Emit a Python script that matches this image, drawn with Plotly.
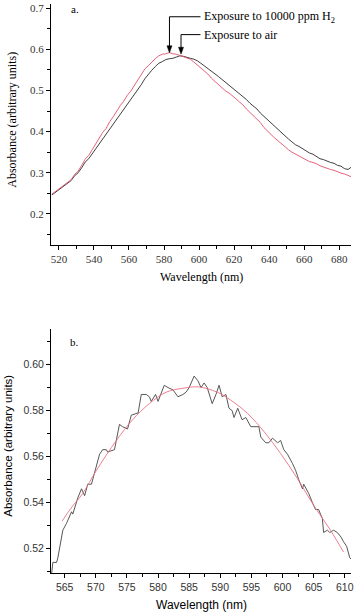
import plotly.graph_objects as go

# ---------- Panel a: absorbance spectra ----------
wl_a = [516, 519, 522, 525, 527, 529, 531, 533, 535, 537, 539, 541, 543, 545, 547, 549,
        551, 553, 555, 557, 559, 561, 563, 565, 567, 569, 571, 573, 575, 577, 579, 581,
        583, 585, 587, 589, 591, 593, 595, 597, 599, 601, 603, 605, 607, 609, 611, 613,
        615, 617, 619, 621, 623, 625, 627, 629, 631, 633, 635, 637, 639, 641, 643, 645,
        647, 649, 651, 653, 655, 657, 659, 661, 663, 665, 667, 669, 671, 673, 675, 677,
        679, 681, 683, 685, 687]

h2_a = [0.248, 0.258, 0.268, 0.277, 0.283, 0.296, 0.304, 0.318, 0.333, 0.342, 0.356, 0.370,
        0.382, 0.398, 0.408, 0.424, 0.436, 0.450, 0.463, 0.474, 0.488, 0.498, 0.512, 0.525,
        0.538, 0.552, 0.560, 0.569, 0.577, 0.584, 0.588, 0.589, 0.592, 0.589, 0.588, 0.585,
        0.582, 0.579, 0.576, 0.569, 0.562, 0.556, 0.547, 0.540, 0.530, 0.522, 0.513, 0.505,
        0.499, 0.494, 0.488, 0.480, 0.472, 0.465, 0.455, 0.447, 0.440, 0.430, 0.422, 0.410,
        0.401, 0.394, 0.385, 0.378, 0.370, 0.364, 0.356, 0.350, 0.345, 0.340, 0.336, 0.331,
        0.327, 0.325, 0.322, 0.317, 0.314, 0.310, 0.308, 0.306, 0.302, 0.299, 0.297, 0.293,
        0.290]

air_a = [0.246, 0.255, 0.266, 0.275, 0.281, 0.293, 0.300, 0.312, 0.326, 0.334, 0.346, 0.358,
         0.368, 0.381, 0.392, 0.404, 0.416, 0.428, 0.442, 0.454, 0.466, 0.478, 0.490, 0.502,
         0.514, 0.528, 0.539, 0.549, 0.558, 0.566, 0.570, 0.575, 0.577, 0.578, 0.581, 0.584,
         0.583, 0.580, 0.578, 0.576, 0.572, 0.566, 0.560, 0.554, 0.547, 0.540, 0.534, 0.527,
         0.520, 0.514, 0.507, 0.500, 0.492, 0.487, 0.478, 0.469, 0.462, 0.455, 0.445, 0.437,
         0.430, 0.420, 0.413, 0.404, 0.397, 0.390, 0.382, 0.375, 0.368, 0.364, 0.358, 0.352,
         0.348, 0.345, 0.340, 0.334, 0.332, 0.328, 0.325, 0.323, 0.318, 0.316, 0.310, 0.308,
         0.314]

# ---------- Panel b: measured spectrum and fit ----------
wl_b = [562.9, 563.1, 563.7, 563.9, 564.7, 565.3, 566.1, 566.3, 567.1, 567.7, 568.2, 568.7,
        569.3, 569.8, 570.6, 571.1, 571.7, 571.9, 573.0, 573.8, 574.3, 575.1, 575.7, 576.8,
        577.3, 578.1, 578.6, 578.9, 579.6, 580.0, 581.0, 581.6, 582.4, 583.2, 584.0, 584.5,
        585.0, 585.8, 586.4, 586.9, 587.4, 587.9, 588.7, 589.3, 589.8, 590.3, 590.9, 591.4,
        591.9, 592.2, 592.8, 593.5, 594.1, 594.9, 595.7, 596.2, 596.5, 597.3, 597.8, 598.4,
        599.2, 599.7, 600.2, 600.8, 601.6, 602.1, 602.6, 603.2, 603.4, 604.2, 604.8, 605.3,
        605.8, 606.4, 606.6, 607.2, 607.6, 608.2, 608.8, 609.4, 609.8, 610.3, 610.8, 611.2]

abs_b = [0.509, 0.514, 0.514, 0.516, 0.528, 0.531, 0.536, 0.535, 0.542, 0.546, 0.543, 0.548,
         0.548, 0.553, 0.561, 0.563, 0.563, 0.562, 0.563, 0.574, 0.573, 0.572, 0.578, 0.579,
         0.587, 0.587, 0.586, 0.584, 0.587, 0.584, 0.591, 0.590, 0.589, 0.586, 0.587, 0.588,
         0.590, 0.595, 0.593, 0.590, 0.592, 0.590, 0.583, 0.587, 0.591, 0.586, 0.587, 0.581,
         0.580, 0.577, 0.581, 0.576, 0.577, 0.573, 0.573, 0.573, 0.5685, 0.566, 0.566, 0.568,
         0.566, 0.567, 0.563, 0.561, 0.557, 0.554, 0.550, 0.546, 0.548, 0.544, 0.540, 0.537,
         0.537, 0.533, 0.527, 0.528, 0.527, 0.528, 0.527, 0.525, 0.523, 0.521, 0.516, 0.515]

wl_fit = [564.6, 566.0, 567.9, 570.1, 573.3, 575.9, 578.6, 581.3, 584.0, 586.5, 589.5, 591.7,
          594.4, 597.1, 599.7, 602.4, 605.0, 607.7, 609.8]
abs_fit = [0.532, 0.5375, 0.5440, 0.5540, 0.5670, 0.5760, 0.5830, 0.5880, 0.5897, 0.5903,
           0.5880, 0.5845, 0.5787, 0.5706, 0.5613, 0.5504, 0.5388, 0.5280, 0.5185]

SERIF = "Liberation Serif, Times New Roman, serif"
SANS = "Liberation Sans, Arial, sans-serif"
RED = "#e2506a"
PINK = "#ec7084"
BLACK = "#2a2a2a"

fig = go.Figure()
fig.add_trace(go.Scatter(x=wl_a, y=air_a, mode="lines", line=dict(color=BLACK, width=0.9),
                         xaxis="x", yaxis="y", showlegend=False))
fig.add_trace(go.Scatter(x=wl_a, y=h2_a, mode="lines", line=dict(color=RED, width=0.9),
                         xaxis="x", yaxis="y", showlegend=False))
fig.add_trace(go.Scatter(x=wl_b, y=abs_b, mode="lines", line=dict(color="#444444", width=0.9),
                         xaxis="x2", yaxis="y2", showlegend=False))
fig.add_trace(go.Scatter(x=wl_fit, y=abs_fit, mode="lines", line=dict(color=PINK, width=0.9, shape="spline"),
                         xaxis="x2", yaxis="y2", showlegend=False))

H = 612.0
def py(px):
    return 1 - px / H

axis_common = dict(showline=True, linecolor="black", linewidth=1, ticks="outside",
                   ticklen=4, tickcolor="black", showgrid=False, zeroline=False,
                   mirror=False, ticklabeloverflow="allow")

fig.update_layout(
    width=354, height=612,
    margin=dict(l=51, r=2, t=0, b=0),
    paper_bgcolor="white", plot_bgcolor="white",
    xaxis=dict(domain=[0, 1], anchor="y", range=[515.5, 686.7], tickvals=list(range(520, 700, 20)),
               minor=dict(dtick=10, tick0=520, ticks="outside", ticklen=3, tickcolor="black"),
               tickfont=dict(family=SERIF, size=11, color="#333"), **axis_common),
    yaxis=dict(domain=[py(244), py(2)], anchor="x", range=[0.124, 0.71],
               tickvals=[0.2, 0.3, 0.4, 0.5, 0.6, 0.7], ticktext=["0.2", "0.3", "0.4", "0.5", "0.6", "0.7"],
               minor=dict(dtick=0.05, tick0=0.15, ticks="outside", ticklen=3, tickcolor="black"),
               tickfont=dict(family=SERIF, size=11, color="#333"), **axis_common),
    xaxis2=dict(domain=[0, 1], anchor="y2", range=[562.8, 611.0], tickvals=list(range(565, 615, 5)),
                minor=dict(dtick=2.5, tick0=565, ticks="outside", ticklen=3, tickcolor="black"),
                tickfont=dict(family=SANS, size=10.5, color="#333"), **axis_common),
    yaxis2=dict(domain=[py(573.3), py(328)], anchor="x2", range=[0.5092, 0.6155],
                tickvals=[0.52, 0.54, 0.56, 0.58, 0.60], ticktext=["0.52", "0.54", "0.56", "0.58", "0.60"],
                minor=dict(dtick=0.01, tick0=0.51, ticks="outside", ticklen=3, tickcolor="black"),
                tickfont=dict(family=SANS, size=10.5, color="#333"), **axis_common),
)

def px_x(px):
    return (px - 51) / 301.0

annotations = [
    dict(text="a.", x=px_x(75), y=py(7), xref="paper", yref="paper", showarrow=False,
         font=dict(family=SERIF, size=11, color="black"), xanchor="center", yanchor="middle"),
    dict(text="b.", x=px_x(75), y=py(341), xref="paper", yref="paper", showarrow=False,
         font=dict(family=SERIF, size=11, color="black"), xanchor="center", yanchor="middle"),
    dict(text="Wavelength (nm)", x=0.5, y=py(276), xref="paper", yref="paper", showarrow=False,
         font=dict(family=SERIF, size=12, color="black"), xanchor="center", yanchor="middle"),
    dict(text="Wavelength (nm)", x=0.5, y=py(605), xref="paper", yref="paper", showarrow=False,
         font=dict(family=SANS, size=12, color="black"), xanchor="center", yanchor="middle"),
    dict(text="Absorbance (arbitrary units)", x=px_x(11), y=py(118), xref="paper", yref="paper",
         showarrow=False, textangle=-90,
         font=dict(family=SERIF, size=12, color="black"), xanchor="center", yanchor="middle"),
    dict(text="Absorbance (arbitrary units)", x=px_x(7), y=py(445), xref="paper", yref="paper",
         showarrow=False, textangle=-90,
         font=dict(family=SANS, size=11.5, color="black"), xanchor="center", yanchor="middle"),
    dict(text="Exposure to 10000 ppm H<sub>2</sub>", x=px_x(203), y=py(15), xref="paper", yref="paper",
         showarrow=False, font=dict(family=SERIF, size=12, color="black"), xanchor="left", yanchor="middle"),
    dict(text="Exposure to air", x=px_x(203), y=py(33), xref="paper", yref="paper",
         showarrow=False, font=dict(family=SERIF, size=12, color="black"), xanchor="left", yanchor="middle"),
]
fig.update_layout(annotations=annotations)

# pointer lines (bracket + arrow) for the two labels
dx = 1 / 1.758   # nm per pixel, panel a
dy = 1 / 413.0   # absorbance per pixel, panel a
for (xt, yt, ycorner) in [(583.1, 0.5915, 0.679), (589.7, 0.588, 0.6356)]:
    fig.add_shape(type="line", xref="x", yref="y", x0=xt, x1=600.8, y0=ycorner, y1=ycorner,
                  line=dict(color="black", width=1))
    fig.add_shape(type="line", xref="x", yref="y", x0=xt, x1=xt, y0=ycorner, y1=yt + 5 * dy,
                  line=dict(color="black", width=1))
    path = (f"M {xt},{yt} L {xt - 2.5 * dx},{yt + 7 * dy} L {xt + 2.5 * dx},{yt + 7 * dy} Z")
    fig.add_shape(type="path", xref="x", yref="y", path=path,
                  fillcolor="black", line=dict(color="black", width=0.5))

fig.write_html("out.html")
